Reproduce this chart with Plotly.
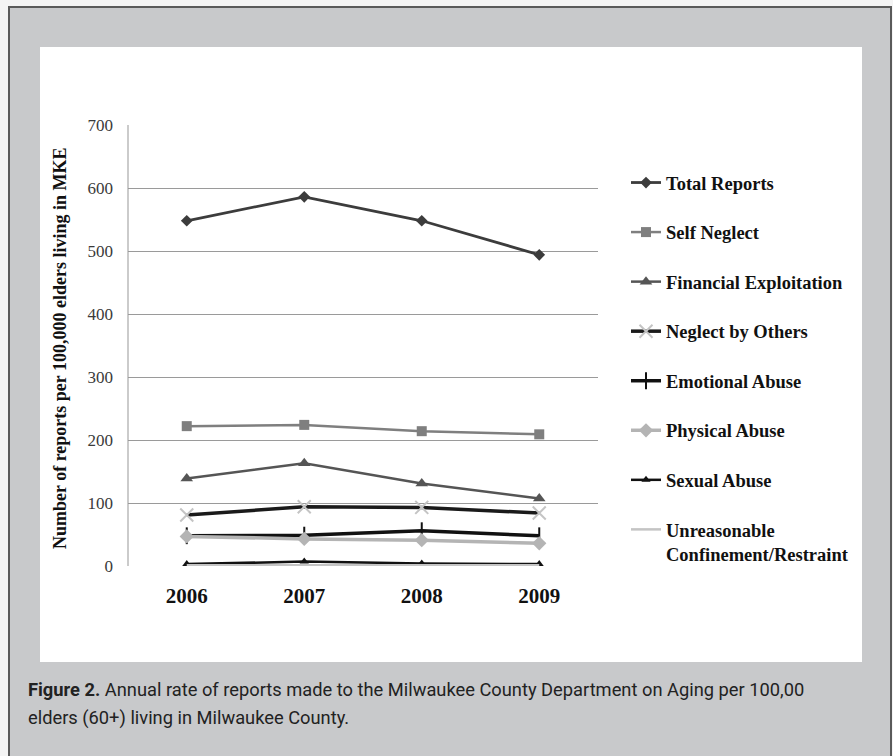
import plotly.graph_objects as go

# Report rates per 100,000 elders (60+) in Milwaukee County
years = ["2006", "2007", "2008", "2009"]
total_reports = [548, 586, 548, 494]
self_neglect = [222, 224, 214, 209]
financial_exploitation = [139, 163, 131, 107]
neglect_by_others = [81, 94, 93, 84]
emotional_abuse = [48, 49, 56, 48]
physical_abuse = [47, 43, 41, 36]
sexual_abuse = [3, 7, 4, 3]
unreasonable_confinement = [1, 1, 1, 1]

y_ticks = [0, 100, 200, 300, 400, 500, 600, 700]

caption_lines = [
    "<b>Figure 2.</b> Annual rate of reports made to the Milwaukee County Department on Aging per 100,00",
    "elders (60+) living in Milwaukee County.",
]

W, H = 893, 756
L, R, T, B = 128, 598, 125, 566  # plot area in pixels


def px(x):
    return (x - L) / (R - L)


def py(y):
    return (B - y) / (B - T)


series = [
    ("Total Reports", total_reports, "#3c3c3c", 2.8, "diamond", 9, "#3c3c3c"),
    ("Self Neglect", self_neglect, "#7f7f7f", 2.5, "square", 10, "#7f7f7f"),
    ("Financial Exploitation", financial_exploitation, "#555555", 2.5, "triangle-up", 11, "#555555"),
    ("Neglect by Others", neglect_by_others, "#1a1a1a", 3.5, "x-thin", 13, "#c4c4c4"),
    ("Emotional Abuse", emotional_abuse, "#111111", 3.5, "line-ns", 12, "#111111"),
    ("Physical Abuse", physical_abuse, "#b4b4b4", 3.5, "diamond", 11, "#b4b4b4"),
    ("Sexual Abuse", sexual_abuse, "#111111", 2.5, "triangle-up", 8, "#111111"),
    ("Unreasonable<br>Confinement/Restraint", unreasonable_confinement, "#c4c4c4", 2.5, None, 0, "#c4c4c4"),
]

fig = go.Figure()
for i, (name, vals, color, lw, sym, msize, mcolor) in enumerate(series):
    if sym is None:
        mode = "lines"
        marker = dict()
    else:
        mode = "lines+markers"
        marker = dict(symbol=sym, size=msize, color=mcolor,
                      line=dict(color=mcolor, width=2 if "thin" in sym or sym == "line-ns" else 0))
    fig.add_trace(go.Scatter(
        x=years, y=vals, name=name, mode=mode,
        line=dict(color=color, width=lw),
        marker=marker, legendgroup=f"g{i}",
    ))

# Page frame: grey card with dark border and white chart panel
shapes = [
    dict(type="rect", xref="paper", yref="paper", layer="below",
         x0=px(9), x1=px(891), y0=py(800), y1=py(7),
         fillcolor="#c8c9cb", line=dict(color="#5a5a5a", width=2)),
    dict(type="rect", xref="paper", yref="paper", layer="below",
         x0=px(40), x1=px(862), y0=py(662), y1=py(47),
         fillcolor="#ffffff", line=dict(width=0)),
    dict(type="line", xref="paper", yref="paper", layer="below",
         x0=0, x1=0, y0=0, y1=1, line=dict(color="#a8a8a8", width=1.2)),
]

annotations = [
    dict(text="Number of reports per 100,000 elders living in MKE",
         xref="paper", yref="paper", x=px(60), y=py(349), textangle=-90,
         showarrow=False, xanchor="center", yanchor="middle",
         font=dict(family="Liberation Serif", size=18, color="#111111", weight="bold")),
]
for line, yc in zip(caption_lines, [689, 717.5]):
    annotations.append(dict(
        text=line, xref="paper", yref="paper", x=px(26), y=py(yc),
        xanchor="left", yanchor="middle", align="left", showarrow=False,
        font=dict(family="Roboto", size=18.3, color="#222222"),
    ))

fig.update_layout(
    width=W, height=H,
    margin=dict(l=L, r=W - R, t=T, b=H - B),
    paper_bgcolor="#f4f4f4",
    plot_bgcolor="rgba(0,0,0,0)",
    shapes=shapes,
    annotations=annotations,
    showlegend=True,
    legend=dict(
        x=px(626), y=py(164), xanchor="left", yanchor="top",
        font=dict(family="Liberation Serif", size=18.5, color="#111111", weight="bold"),
        tracegroupgap=22.5, valign="top", bgcolor="rgba(0,0,0,0)",
    ),
    xaxis=dict(
        type="category", range=[-0.5, 3.5], showgrid=False, zeroline=False,
        showline=False, ticks="",
        tickfont=dict(family="Liberation Serif", size=21, color="#111111", weight="bold"),
        ticklabelstandoff=15,
    ),
    yaxis=dict(
        range=[0, 700], tickvals=y_ticks, showgrid=True, gridcolor="#9a9a9a",
        gridwidth=1.2, zeroline=False, showline=False, ticks="",
        tickfont=dict(family="Liberation Serif", size=17, color="#3a3a3a"),
        ticklabelstandoff=14,
    ),
)

fig.write_html("out.html")
